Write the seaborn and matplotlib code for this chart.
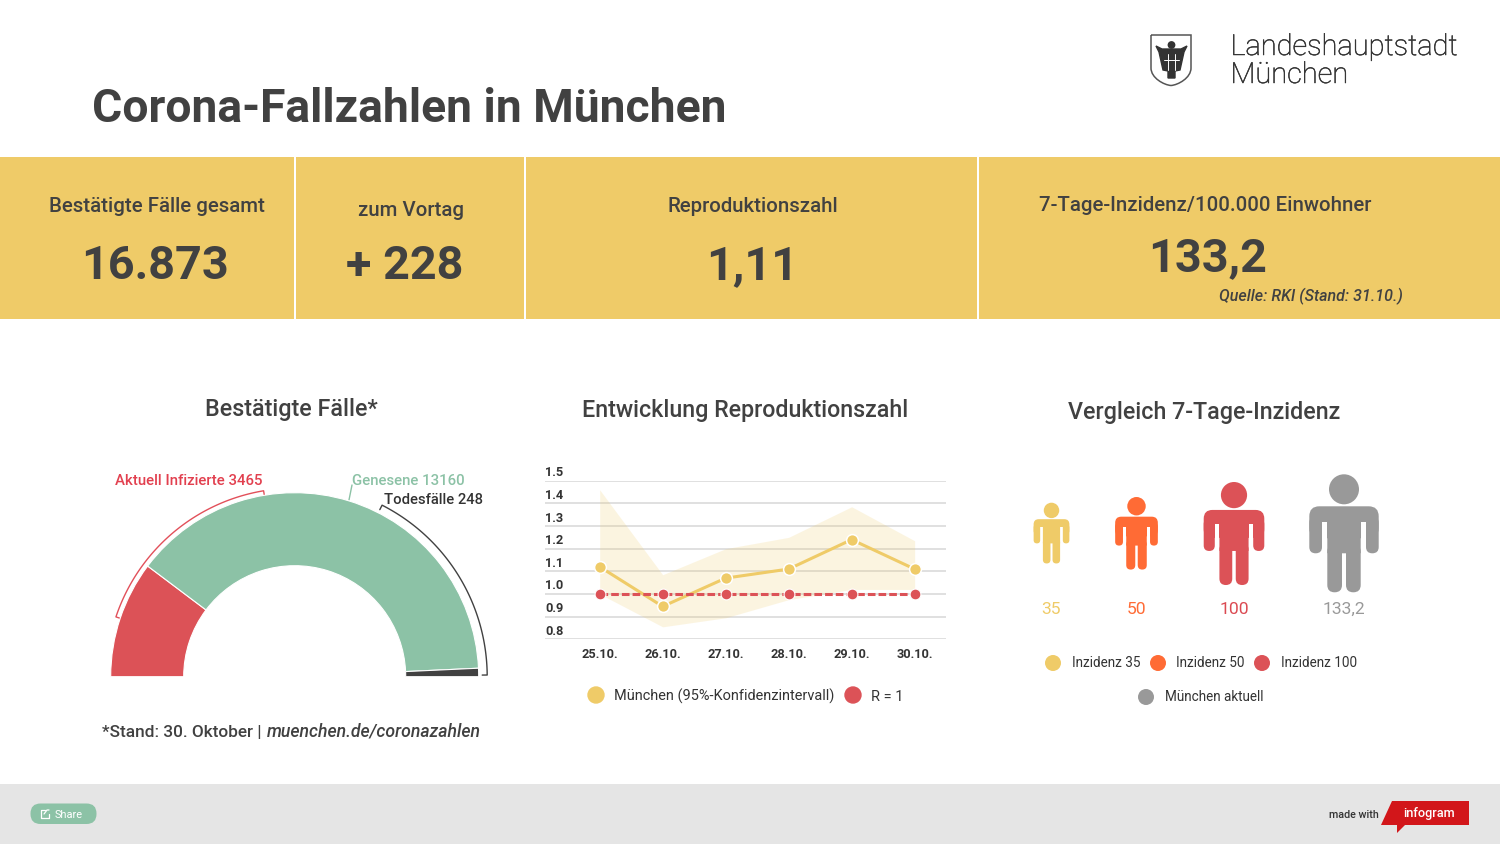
import numpy as np
import pandas as pd
import matplotlib
matplotlib.use("Agg")
import matplotlib.pyplot as plt
import matplotlib.patheffects as pe
import seaborn as sns
from matplotlib.patches import Circle, FancyBboxPatch, Polygon, PathPatch, Rectangle
from matplotlib.path import Path
from matplotlib.transforms import ScaledTranslation

# Data
KPI_LABELS = ["Bestätigte Fälle gesamt", "zum Vortag", "Reproduktionszahl", "7-Tage-Inzidenz/100.000 Einwohner"]
KPI_VALUES = ["16.873", "+ 228", "1,11", "133,2"]

GAUGE_NAMES = ["Aktuell Infizierte", "Genesene", "Todesfälle"]
GAUGE_VALUES = [3465, 13160, 248]

DAYS = ["25.10.", "26.10.", "27.10.", "28.10.", "29.10.", "30.10."]
R_VALUES = [1.12, 0.945, 1.07, 1.11, 1.24, 1.11]
R_UPPER = [1.46, 1.085, 1.20, 1.25, 1.385, 1.235]
R_LOWER = [1.00, 0.855, 0.895, 0.975, 1.02, 1.02]
R_ONE = [1, 1, 1, 1, 1, 1]
R_TICKS = [0.8, 0.9, 1.0, 1.1, 1.2, 1.3, 1.4, 1.5]

INCIDENCE_LABELS = ["35", "50", "100", "133,2"]
INCIDENCE_LEGEND = ["Inzidenz 35", "Inzidenz 50", "Inzidenz 100", "München aktuell"]

# Colours
YELLOW = "#EFCB68"
ORANGE = "#FF6B35"
RED = "#DC5257"
GREEN = "#8CC2A6"
GREY = "#999999"
DARK = "#414141"
W, H = 1500, 844

sns.set_theme(style="white")
plt.rcParams["font.family"] = ["Roboto", "DejaVu Sans"]

fig = plt.figure(figsize=(W / 100, H / 100), dpi=100, facecolor="white")

# Full page axes in pixel coordinates, for everything around the charts
page = fig.add_axes([0, 0, 1, 1], facecolor="none")
page.set_xlim(0, W)
page.set_ylim(H, 0)
page.axis("off")


def label(x, y, s, size, color=DARK, weight="normal", ha="center", style="normal"):
    return page.text(x, y, s, fontsize=size * 0.72, color=color, fontweight=weight, ha=ha,
                     va="baseline", fontstyle=style)


def sub_axes(left, top, right, bottom):
    return fig.add_axes([left / W, 1 - bottom / H, (right - left) / W, (bottom - top) / H], facecolor="none")


# Header
label(92, 122, "Corona-Fallzahlen in München", 46.3, weight="bold", ha="left")
for y, s in [(55, "Landeshauptstadt"), (83, "München")]:
    t = label(1230.5, y, s, 29, color="#333333", weight="light", ha="left")
    t.set_path_effects([pe.withStroke(linewidth=0.35, foreground="#333333")])

# Coat of arms
shield = Path([(1151, 35), (1191, 35), (1191, 68), (1191, 78), (1178, 85), (1171, 85.5),
               (1164, 85), (1151, 78), (1151, 68), (1151, 35)],
              [1, 2, 2, 4, 4, 4, 4, 4, 4, 2])
page.add_patch(PathPatch(shield, fc="white", ec="#555555", lw=1.1))
page.add_patch(Circle((1171.5, 45), 3.2, color="#333333"))
page.add_patch(Polygon([(1156, 46), (1162, 49), (1181, 49), (1187, 46), (1184, 52), (1180, 70),
                        (1175, 71), (1175, 78), (1168, 78), (1168, 71), (1163, 70), (1159, 52)],
                       color="#333333"))
page.plot([1168, 1168], [54, 70], color="white", lw=0.7)
page.plot([1175, 1175], [54, 70], color="white", lw=0.7)
page.plot([1164, 1179], [60, 60], color="white", lw=0.7)

# KPI bands
for x0, x1 in [(0, 294), (296, 524), (526, 977), (979, 1500)]:
    page.add_patch(Rectangle((x0, 157), x1 - x0, 162, color=YELLOW, lw=0))

for x, y, s in zip([157, 411, 753, 1205], [212, 216, 212, 211], KPI_LABELS):
    label(x, y, s, 20.4, weight="medium")
for x, y, s in zip([155, 405, 752, 1208], [279, 279, 279, 271], KPI_VALUES):
    label(x, y, s, 46.8, weight="bold")
label(1311, 301, "Quelle: RKI (Stand: 31.10.)", 16, weight="medium", style="italic")

# Section titles
label(291, 416, "Bestätigte Fälle*", 23.3, weight="medium")
label(745, 417, "Entwicklung Reproduktionszahl", 23.3, weight="medium")
label(1204, 419, "Vergleich 7-Tage-Inzidenz", 23.3, weight="medium")

# Gauge: half a pie, the lower half is an invisible wedge of the same total
CX, CY, R_OUT, R_IN = 294.7, 676.7, 184, 111
pad = R_OUT * 1.25
gauge = sub_axes(CX - pad, CY - pad, CX + pad, CY + pad)
total = sum(GAUGE_VALUES)
wedges, _ = gauge.pie(GAUGE_VALUES + [total], colors=[RED, GREEN, DARK, "none"], startangle=180,
                      counterclock=False, radius=1,
                      wedgeprops={"width": (R_OUT - R_IN) / R_OUT, "edgecolor": "white", "linewidth": 0.8})
wedges[-1].set_edgecolor("none")
gauge.set_xlim(-1.25, 1.25)
gauge.set_ylim(-1.25, 1.25)


def bracket(a0, a1, r, color):
    # leader arc round the gauge with short ticks at both ends, angles in degrees from the left
    t = np.radians(np.linspace(a0, a1, 80))
    rr = np.concatenate([[r - 5], np.full(80, r), [r - 5]])
    t = np.concatenate([[t[0]], t, [t[-1]]])
    page.plot(CX - rr * np.cos(t), CY - rr * np.sin(t), color=color, lw=1)


bracket(18.5, 80.5, 188.5, "#E2505A")
bracket(117, 179.5, 192.5, DARK)
page.plot([352, 349], [485, 500], color=GREEN, lw=1)

label(115, 485, f"{GAUGE_NAMES[0]} {GAUGE_VALUES[0]}", 15, color="#E2404F", weight="medium", ha="left")
label(352, 485, f"{GAUGE_NAMES[1]} {GAUGE_VALUES[1]}", 15, color=GREEN, weight="medium", ha="left")
label(384, 504, f"{GAUGE_NAMES[2]} {GAUGE_VALUES[2]}", 14.7, color="#333333", weight="medium", ha="left")

label(102, 737, "*Stand: 30. Oktober |", 17.3, weight="medium", ha="left")
label(267, 737, "muenchen.de/coronazahlen", 17.6, weight="medium", ha="left", style="italic")

# Reproduction number line chart
rdf = pd.DataFrame({"day": DAYS, "r": R_VALUES, "one": R_ONE})
ax = sub_axes(545, 480.7, 946, 639.3)
ax.fill_between(range(len(DAYS)), R_LOWER, R_UPPER, color=YELLOW, alpha=0.2, lw=0, zorder=1)
sns.lineplot(data=rdf, x="day", y="r", ax=ax, color=YELLOW, linewidth=2.2, marker="o", markersize=8.5,
             markeredgecolor="white", markeredgewidth=1.1, zorder=3)
sns.lineplot(data=rdf, x="day", y="one", ax=ax, color=RED, linewidth=2.2, linestyle=(0, (2.5, 1.0)), marker="o",
             markersize=7.8, markeredgecolor="white", markeredgewidth=0.8, zorder=4)
ax.set_xlim(-0.868, 5.498)
ax.set_ylim(0.8, 1.5)
ax.set_yticks(R_TICKS)
ax.set_yticklabels([f"{v:.1f}" for v in R_TICKS])
ax.set_xlabel("")
ax.set_ylabel("")
ax.grid(axis="y", color="#DDDDDD", lw=1.3)
ax.set_axisbelow(True)
sns.despine(ax=ax, left=True, bottom=True)
ax.tick_params(axis="y", length=0, pad=-1, labelsize=12.7 * 0.72, labelcolor="#333333")
ax.tick_params(axis="x", length=0, pad=6.5, labelsize=12.7 * 0.72, labelcolor="#333333")
# y labels sit inside the plot, on top of their grid lines
lift = ScaledTranslation(0, 1.5 / 100, fig.dpi_scale_trans)
for t in ax.get_yticklabels():
    t.set_ha("left")
    t.set_va("bottom")
    t.set_fontweight("bold")
    t.set_transform(ax.get_yaxis_transform() + lift)
for t in ax.get_xticklabels():
    t.set_fontweight("bold")

page.add_patch(Circle((596, 695), 8, color=YELLOW))
label(614, 701, "München (95%-Konfidenzintervall)", 14.5, color="#333333", ha="left")
page.add_patch(Circle((853, 695), 8, color=RED))
label(871, 701, "R = 1", 14.5, color="#333333", ha="left")


# Person icons, drawn in the units of the big grey one
def person(cx, top, scale, color):
    def box(x0, y0, x1, y1, r):
        page.add_patch(FancyBboxPatch((cx + (x0 + r) * scale, top + (y0 + r) * scale),
                                      (x1 - x0 - 2 * r) * scale, (y1 - y0 - 2 * r) * scale,
                                      boxstyle=f"round,pad={r * scale},rounding_size={r * scale}",
                                      fc=color, ec="none", lw=0))
    page.add_patch(Circle((cx, top + 15 * scale), 15 * scale, color=color, lw=0))
    box(-34.7, 32, 34.7, 64, 10)      # shoulders
    for side in (-1, 1):              # gap between arm and body
        x0 = min(side * 22, side * 16.7)
        page.add_patch(Rectangle((cx + x0 * scale, top + 48 * scale), 5.3 * scale, 20 * scale, color="white", lw=0))
    box(-34.7, 42, -22, 79, 6.3)      # left arm
    box(22, 42, 34.7, 79, 6.3)        # right arm
    box(-16.7, 40, 16.7, 79, 0.5)     # torso
    box(-16.7, 70, -2, 118, 7.3)      # left leg
    box(2, 70, 16.7, 118, 7.3)        # right leg


ICON_X = [1051.5, 1136.5, 1234, 1344]
ICON_TOP = [502.7, 497, 482, 474.3]
ICON_SCALE = [0.515, 0.615, 0.873, 1.0]
ICON_COLORS = [YELLOW, ORANGE, RED, GREY]
for x, top, s, c, v in zip(ICON_X, ICON_TOP, ICON_SCALE, ICON_COLORS, INCIDENCE_LABELS):
    person(x, top, s, c)
    label(x, 614, v, 17.5, color={RED: "#DB4A52"}.get(c, c))

for x, y, c, s, tx in zip([1053, 1158, 1262, 1146], [663, 663, 663, 697], ICON_COLORS, INCIDENCE_LEGEND,
                          [1072, 1176, 1281, 1165]):
    page.add_patch(Circle((x, y), 8, color=c, lw=0))
    label(tx, y + 4, s, 13.5, color="#333333", ha="left")

# Footer
page.add_patch(Rectangle((0, 784), W, 60, color="#E5E5E5", lw=0))
page.add_patch(FancyBboxPatch((30.5, 803.5), 66, 20.5, boxstyle="round,pad=0,rounding_size=10", fc=GREEN, ec="none"))
page.plot([45, 41, 41, 49, 49], [810, 810, 818, 818, 814], color="white", lw=0.9)
page.plot([44, 47, 49], [814, 810, 810], color="white", lw=0.9)
label(55, 818, "Share", 11, color="white", ha="left")
label(1329, 818, "made with", 10.7, color="#333333", weight="medium", ha="left")
page.add_patch(Polygon([(1392, 801), (1469, 801), (1469, 825), (1405, 825), (1397, 833), (1397, 825), (1381, 825)],
                       color="#D2161A", lw=0))
label(1429, 817, "infogram", 12.8, color="white", weight="medium")

fig.savefig("out.png", dpi=100)
